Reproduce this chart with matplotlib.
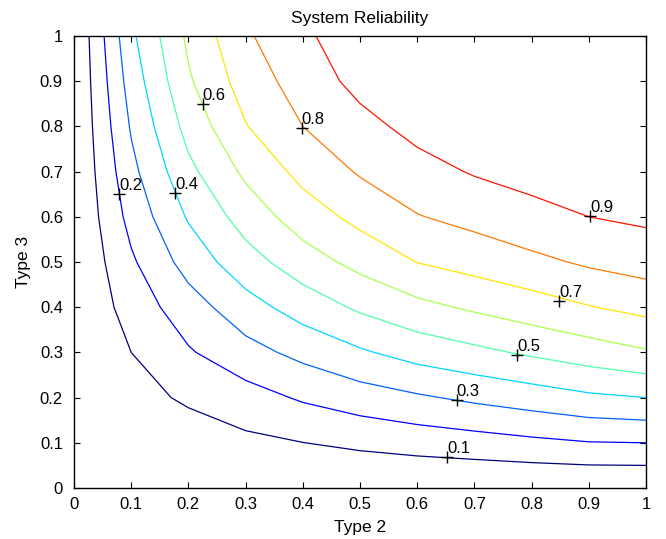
import numpy as np
import matplotlib
matplotlib.use("Agg")
import matplotlib.pyplot as plt

plt.rcParams['font.family'] = ['Liberation Sans', 'DejaVu Sans']

# grid of component reliabilities
type2 = [0.0, 0.1, 0.2, 0.3, 0.4, 0.5, 0.6, 0.7, 0.8, 0.9, 1.0]
type3 = [0.0, 0.1, 0.2, 0.3, 0.4, 0.5, 0.6, 0.7, 0.8, 0.9, 1.0]

# system reliability, rows = Type 3 value, columns = Type 2 value
reliability = [
    [0, 0.000, 0.000, 0.000, 0.000, 0.000, 0.000, 0.000, 0.000, 0.000, 0.000],
    [0, 0.035, 0.055, 0.078, 0.099, 0.121, 0.141, 0.158, 0.178, 0.196, 0.200],
    [0, 0.070, 0.113, 0.160, 0.212, 0.253, 0.287, 0.320, 0.350, 0.382, 0.400],
    [0, 0.100, 0.190, 0.265, 0.328, 0.387, 0.440, 0.477, 0.515, 0.553, 0.590],
    [0, 0.143, 0.255, 0.360, 0.445, 0.516, 0.573, 0.615, 0.655, 0.695, 0.730],
    [0, 0.185, 0.340, 0.460, 0.554, 0.631, 0.702, 0.739, 0.775, 0.815, 0.843],
    [0, 0.233, 0.410, 0.542, 0.650, 0.729, 0.795, 0.831, 0.875, 0.900, 0.918],
    [0, 0.273, 0.475, 0.620, 0.730, 0.810, 0.865, 0.908, 0.928, 0.940, 0.955],
    [0, 0.310, 0.535, 0.695, 0.800, 0.869, 0.930, 0.950, 0.965, 0.975, 0.982],
    [0, 0.345, 0.587, 0.745, 0.845, 0.930, 0.960, 0.975, 0.985, 0.990, 0.993],
    [0, 0.380, 0.620, 0.785, 0.885, 0.950, 0.975, 0.990, 0.995, 0.998, 1.000],
]

levels = [0.1, 0.2, 0.3, 0.4, 0.5, 0.6, 0.7, 0.8, 0.9]

# label anchor points (Type 2, Type 3) for each level
label_x = [0.652, 0.079, 0.669, 0.177, 0.775, 0.225, 0.848, 0.398, 0.902]
label_y = [0.069, 0.650, 0.195, 0.652, 0.294, 0.850, 0.414, 0.797, 0.602]

tick_vals = [0, 0.1, 0.2, 0.3, 0.4, 0.5, 0.6, 0.7, 0.8, 0.9, 1]
tick_labels = ['0', '0.1', '0.2', '0.3', '0.4', '0.5', '0.6', '0.7', '0.8', '0.9', '1']

X, Y = np.meshgrid(type2, type3)
Z = np.array(reliability)

fig = plt.figure(figsize=(6.66, 5.39), dpi=100)
ax = fig.add_axes([74 / 666, 51 / 539, 572 / 666, 452 / 539])

cmap = plt.get_cmap('jet')
lo, hi = 0.1, 1.0
colors = [cmap((lv - lo) / (hi - lo)) for lv in levels]
ax.contour(X, Y, Z, levels=levels, colors=colors, linewidths=0.9)

for lv, lx, ly in zip(levels, label_x, label_y):
    ax.plot(lx, ly, marker='+', color='black', markersize=9, mew=1.0, zorder=5)
    ax.text(lx, ly + 0.009, f'{lv:g}', fontsize=12, ha='left', va='baseline',
            color='black', zorder=6)

ax.set_xlim(0, 1)
ax.set_ylim(0, 1)
ax.set_xticks(tick_vals)
ax.set_xticklabels(tick_labels)
ax.set_yticks(tick_vals)
ax.set_yticklabels(tick_labels)
ax.tick_params(direction='in', length=4, width=0.8, top=True, right=True,
               labelsize=12, colors='black')
ax.tick_params(axis='x', pad=6.5)
ax.tick_params(axis='y', pad=8)
for s in ax.spines.values():
    s.set_linewidth(1.0)
    s.set_color('black')

ax.set_title('System Reliability', fontsize=12.5, pad=9)
ax.set_xlabel('Type 2', fontsize=12.5, labelpad=6)
ax.set_ylabel('Type 3', fontsize=12.5, labelpad=6)

fig.savefig('out.png', dpi=100)
